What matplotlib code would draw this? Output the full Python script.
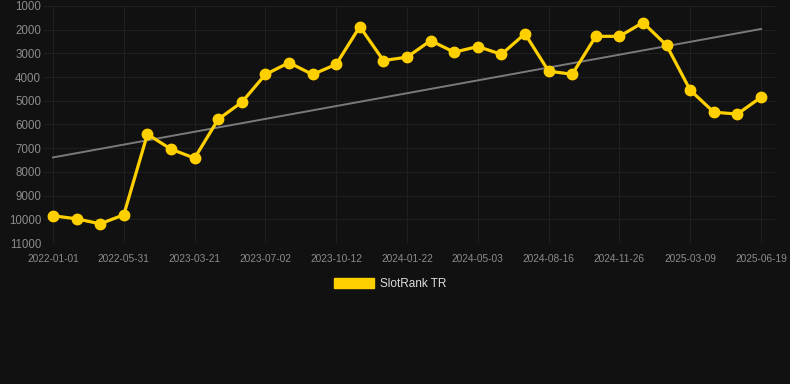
import numpy as np
import matplotlib
matplotlib.use('Agg')
import matplotlib.pyplot as plt
from matplotlib.patches import Patch

# Rank values per sample (category axis, every third has a label)
ranks = [9850, 9980, 10190, 9810, 6410, 7040, 7420, 5780, 5060, 3890,
         3390, 3890, 3460, 1870, 3300, 3160, 2460, 2950, 2710, 3040,
         2170, 3750, 3880, 2280, 2280, 1700, 2660, 4550, 5480, 5560, 4850]
tick_labels = ['2022-01-01', '2022-05-31', '2023-03-21', '2023-07-02',
               '2023-10-12', '2024-01-22', '2024-05-03', '2024-08-16',
               '2024-11-26', '2025-03-09', '2025-06-19']
trend_ends = [7390, 1970]
y_ticks = [1000, 2000, 3000, 4000, 5000, 6000, 7000, 8000, 9000, 10000, 11000]

bg = '#111111'
gold = '#FFD000'
grid_col = '#1f1f1f'
txt_col = '#8c8c8c'

plt.rcParams['font.family'] = ['Liberation Sans', 'DejaVu Sans']

fig = plt.figure(figsize=(7.9, 3.84), dpi=100, facecolor=bg)
ax = fig.add_axes([44 / 790, 1 - 243 / 384, (775 - 44) / 790, (243 - 6) / 384])
ax.set_facecolor(bg)

x = np.arange(len(ranks))
ax.plot([x[0], x[-1]], trend_ends, color='#7a7a7a', lw=1.4, zorder=2)
ax.plot(x, ranks, color=gold, lw=2.3, marker='o', markersize=7.5, zorder=3)

ax.set_ylim(11000, 1000)
ax.set_yticks(y_ticks)
ax.set_yticklabels([str(v) for v in y_ticks])
ax.set_xlim(-9 / 23.6, x[-1] + 14 / 23.6)
ax.set_xticks(x[::3])
ax.set_xticklabels(tick_labels)

ax.grid(True, color=grid_col, lw=0.8)
ax.set_axisbelow(True)
for s in ax.spines.values():
    s.set_visible(False)
ax.tick_params(axis='y', length=0, pad=2, labelsize=8.3, labelcolor=txt_col)
ax.tick_params(axis='x', length=0, pad=8, labelsize=7.3, labelcolor=txt_col)

fig.legend(handles=[Patch(facecolor=gold, edgecolor=gold, label='SlotRank TR')],
           loc='center', bbox_to_anchor=(390 / 790, 1 - 284 / 384), frameon=False,
           handlelength=3.4, handleheight=0.9, handletextpad=0.5,
           fontsize=8.5, labelcolor='#dddddd')

fig.savefig('out.png', dpi=100, facecolor=bg)
